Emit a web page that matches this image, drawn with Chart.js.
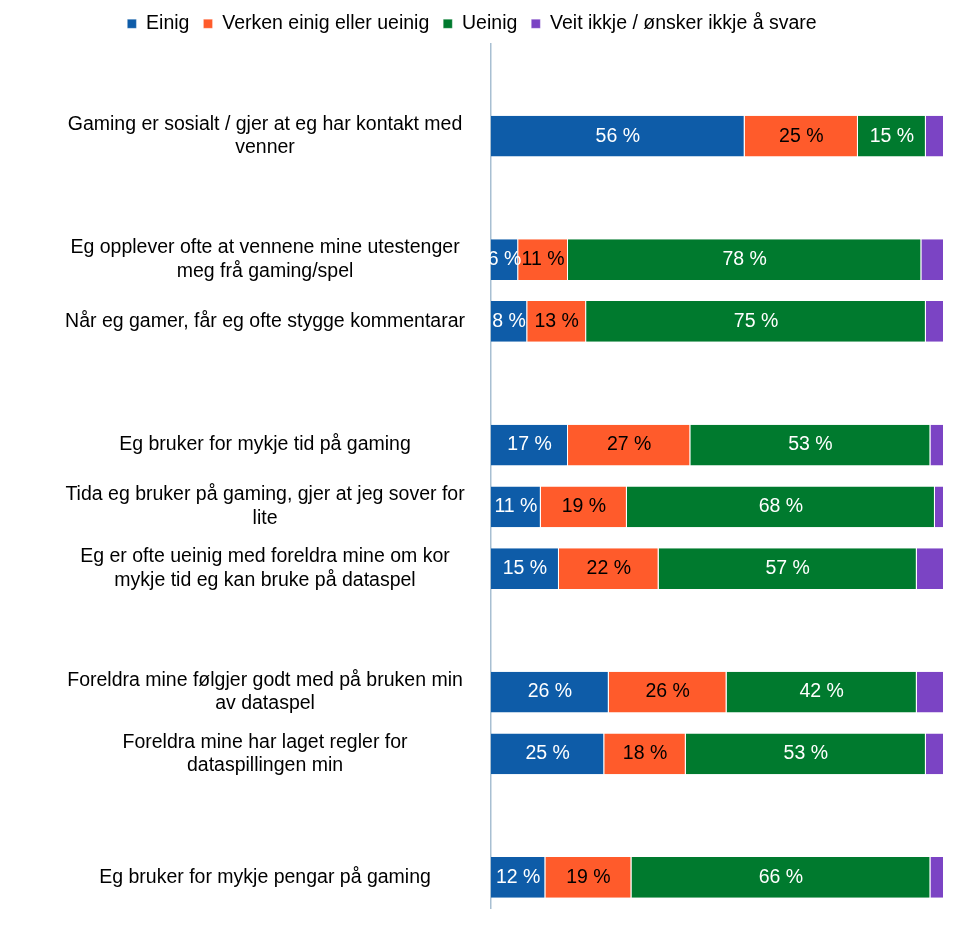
<!DOCTYPE html>
<html><head><meta charset="utf-8">
<script src="https://cdn.jsdelivr.net/npm/chart.js@4"></script>
<style>body{margin:0;background:#fff}#wrap{width:954px;height:938px}</style>
</head><body><div id="wrap"><canvas id="c"></canvas></div>
<script>
const categories = [
  "",
  ["Gaming er sosialt / gjer at eg har kontakt med", "venner"],
  "",
  ["Eg opplever ofte at vennene mine utestenger", "meg frå gaming/spel"],
  "Når eg gamer, får eg ofte stygge kommentarar",
  "",
  "Eg bruker for mykje tid på gaming",
  ["Tida eg bruker på gaming, gjer at jeg sover for", "lite"],
  ["Eg er ofte ueinig med foreldra mine om kor", "mykje tid eg kan bruke på dataspel"],
  "",
  ["Foreldra mine følgjer godt med på bruken min", "av dataspel"],
  ["Foreldra mine har laget regler for", "dataspillingen min"],
  "",
  "Eg bruker for mykje pengar på gaming"
];
const seriesNames = ["Einig", "Verken einig eller ueinig", "Ueinig", "Veit ikkje / ønsker ikkje å svare"];
const einig   = [null, 56, null, 6, 8, null, 17, 11, 15, null, 26, 25, null, 12];
const verken  = [null, 25, null, 11, 13, null, 27, 19, 22, null, 26, 18, null, 19];
const ueinig  = [null, 15, null, 78, 75, null, 53, 68, 57, null, 42, 53, null, 66];
const veit    = [null, 4, null, 5, 4, null, 3, 2, 6, null, 6, 4, null, 3];
const colors = ["#0e5ca8", "#ff5b2b", "#007a2e", "#7b44c4"];
const textColors = ["#fff", "#000", "#fff", null];
const FONT = "'Liberation Sans', Arial, sans-serif";

const labelPlugin = {
  id: "barLabels",
  afterDatasetsDraw(chart) {
    const ctx = chart.ctx;
    ctx.save();
    ctx.font = "19.5px " + FONT;
    ctx.textAlign = "center";
    ctx.textBaseline = "middle";
    chart.data.datasets.forEach((ds, i) => {
      if (!textColors[i]) return;
      ctx.fillStyle = textColors[i];
      chart.getDatasetMeta(i).data.forEach((bar, j) => {
        const v = ds.data[j];
        if (v == null) return;
        ctx.fillText(v + " %", (bar.x + bar.base) / 2, bar.y);
      });
    });
    ctx.restore();
  }
};

new Chart(document.getElementById("c"), {
  type: "bar",
  data: {
    labels: categories,
    datasets: [einig, verken, ueinig, veit].map((d, i) => ({
      label: seriesNames[i], data: d, backgroundColor: colors[i],
      borderColor: "#fff", borderWidth: {left: 0, right: 1, top: 0, bottom: 0}, borderSkipped: false,
      categoryPercentage: 0.66, barPercentage: 1
    }))
  },
  options: {
    indexAxis: "y", responsive: true, maintainAspectRatio: false, animation: false,
    layout: {padding: {left: 0, right: 10, top: 0, bottom: -30}},
    plugins: {
      legend: {
        position: "top",
        labels: {usePointStyle: true, pointStyle: "rect", boxWidth: 9, boxHeight: 9,
          color: "#000", font: {size: 19.5, family: FONT}, padding: 14},
        afterFit(l) { l.height = 70; }
      },
      tooltip: {enabled: false}
    },
    scales: {
      x: {stacked: true, min: 0, max: 100, display: false},
      y: {stacked: true,
        afterFit(s) { s.width = 491; },
        grid: {display: false},
        border: {color: "#a8bfd2", width: 1.5},
        ticks: {color: "#000", autoSkip: false, padding: 18, crossAlign: "center",
          font: {size: 19.5, family: FONT}}
      }
    }
  },
  plugins: [labelPlugin]
});
</script></body></html>
